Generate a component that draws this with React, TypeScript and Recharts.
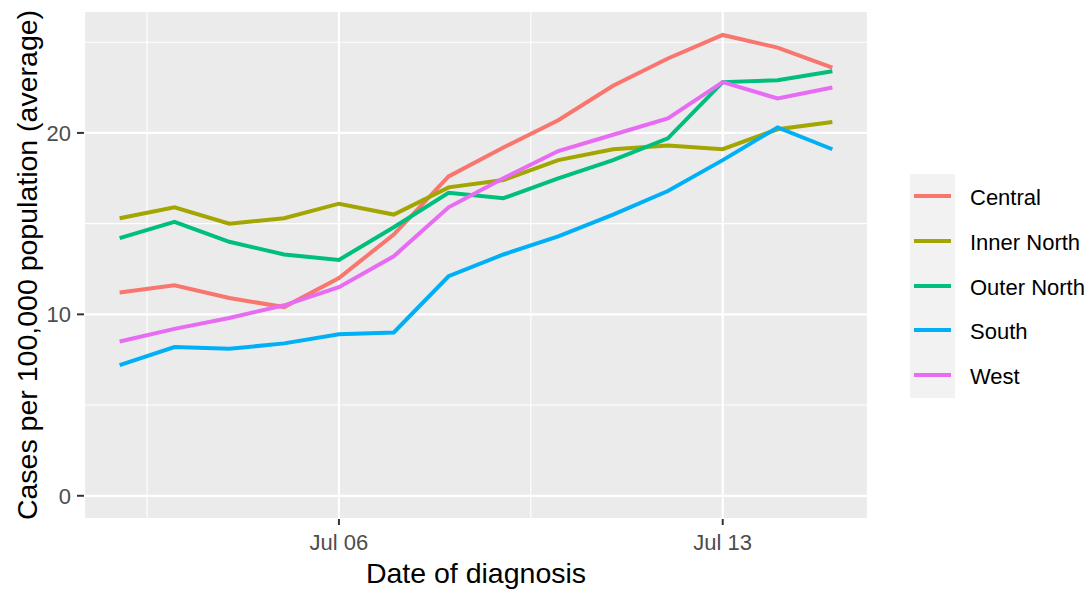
import React from 'react';
import {
  LineChart,
  Line,
  XAxis,
  YAxis,
  CartesianGrid,
  ReferenceLine
} from 'recharts';

// day of July for each point
const days = [2, 3, 4, 5, 6, 7, 8, 9, 10, 11, 12, 13, 14, 15];

const central = [11.2, 11.6, 10.9, 10.4, 12.0, 14.4, 17.6, 19.2, 20.7, 22.6, 24.1, 25.4, 24.7, 23.6];
const innerNorth = [15.3, 15.9, 15.0, 15.3, 16.1, 15.5, 17.0, 17.4, 18.5, 19.1, 19.3, 19.1, 20.2, 20.6];
const outerNorth = [14.2, 15.1, 14.0, 13.3, 13.0, 14.8, 16.7, 16.4, 17.5, 18.5, 19.7, 22.8, 22.9, 23.4];
const south = [7.2, 8.2, 8.1, 8.4, 8.9, 9.0, 12.1, 13.3, 14.3, 15.5, 16.8, 18.5, 20.3, 19.1];
const west = [8.5, 9.2, 9.8, 10.5, 11.5, 13.2, 15.9, 17.5, 19.0, 19.9, 20.8, 22.8, 21.9, 22.5];

const xTicks = [6, 13];
const xMinor = [2.5, 9.5];
const yTicks = [0, 10, 20];
const yMinor = [5, 15, 25];

const series = [
  { key: 'Central', values: central, color: '#F8766D' },
  { key: 'Inner North', values: innerNorth, color: '#A3A500' },
  { key: 'Outer North', values: outerNorth, color: '#00BF7D' },
  { key: 'South', values: south, color: '#00B0F6' },
  { key: 'West', values: west, color: '#E76BF3' }
];

const data = days.map((d, i) => {
  const row: Record<string, number> = { day: d };
  series.forEach((s) => {
    row[s.key] = s.values[i];
  });
  return row;
});

const FONT = '"Liberation Sans", Arial, sans-serif';

const fmtDay = (d: number) => 'Jul ' + String(d).padStart(2, '0');

const YTitle = (props: any) => {
  const { viewBox } = props;
  const x = 37;
  const y = viewBox.y + viewBox.height / 2;
  return (
    <text
      x={x}
      y={y}
      transform={`rotate(-90 ${x} ${y})`}
      textAnchor="middle"
      fontSize={28.5}
      fill="#000"
      fontFamily={FONT}
    >
      Cases per 100,000 population (average)
    </text>
  );
};

const XTitle = (props: any) => {
  const { viewBox } = props;
  return (
    <text
      x={viewBox.x + viewBox.width / 2}
      y={583}
      textAnchor="middle"
      fontSize={28.5}
      fill="#000"
      fontFamily={FONT}
    >
      Date of diagnosis
    </text>
  );
};

// legend drawn as a plain overlay so it doesn't eat plot width
const LegendBox = () => (
  <div
    style={{
      position: 'absolute',
      left: 910,
      top: 174,
      width: 45,
      height: 224,
      background: '#F2F2F2',
      fontFamily: FONT
    }}
  >
    {series.map((s, i) => (
      <div key={s.key} style={{ position: 'absolute', left: 0, top: 22 + i * 44.8 }}>
        <div
          style={{
            position: 'absolute',
            left: 4,
            top: -2,
            width: 37,
            height: 4,
            background: s.color
          }}
        />
        <div
          style={{
            position: 'absolute',
            left: 60,
            top: -11,
            fontSize: 22,
            lineHeight: '26px',
            whiteSpace: 'nowrap',
            color: '#000'
          }}
        >
          {s.key}
        </div>
      </div>
    ))}
  </div>
);

export default function App() {
  return (
    <div
      style={{
        position: 'absolute',
        left: 0,
        top: 0,
        width: 1091,
        height: 590,
        background: '#fff'
      }}
    >
      <LineChart
        width={1091}
        height={590}
        data={data}
        margin={{ top: 11, right: 223, left: 0, bottom: 0 }}
      >
        <CartesianGrid fill="#EBEBEB" stroke="#FFFFFF" strokeWidth={2.2} />
        {yMinor.map((v) => (
          <ReferenceLine key={'y' + v} y={v} stroke="#FFFFFF" strokeWidth={1.1} />
        ))}
        {xMinor.map((v) => (
          <ReferenceLine key={'x' + v} x={v} stroke="#FFFFFF" strokeWidth={1.1} />
        ))}
        <XAxis
          dataKey="day"
          type="number"
          domain={[1.35, 15.65]}
          ticks={xTicks}
          tickFormatter={fmtDay}
          allowDataOverflow
          height={71}
          axisLine={false}
          tickSize={6}
          tickMargin={9}
          tickLine={{ stroke: '#333333', strokeWidth: 2 }}
          tick={{ fill: '#4D4D4D', fontSize: 22, fontFamily: FONT }}
          label={<XTitle />}
        />
        <YAxis
          type="number"
          domain={[-1.28, 26.72]}
          ticks={yTicks}
          allowDataOverflow
          width={84}
          axisLine={false}
          tickSize={7}
          tickMargin={6}
          tickLine={{ stroke: '#333333', strokeWidth: 2 }}
          tick={{ fill: '#4D4D4D', fontSize: 22, fontFamily: FONT }}
          label={<YTitle />}
        />
        {series.map((s) => (
          <Line
            key={s.key}
            dataKey={s.key}
            stroke={s.color}
            strokeWidth={4}
            dot={false}
            activeDot={false}
            type="linear"
            isAnimationActive={false}
          />
        ))}
      </LineChart>
      <LegendBox />
    </div>
  );
}
